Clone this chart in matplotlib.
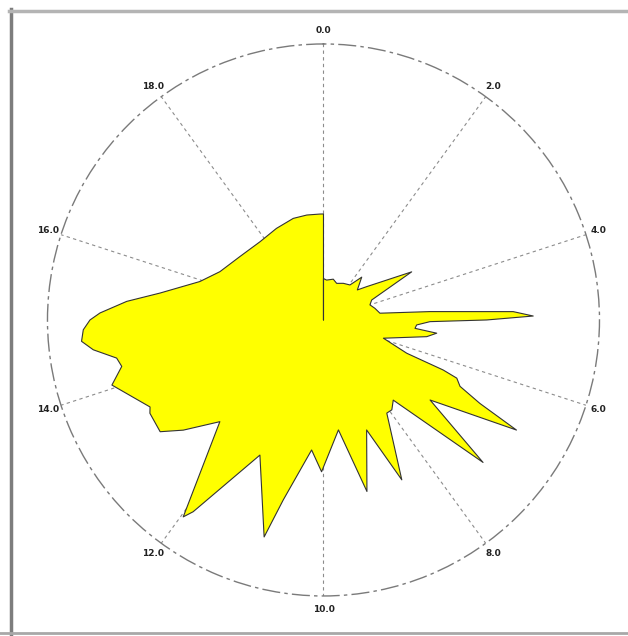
import numpy as np
import matplotlib.pyplot as plt
from matplotlib.lines import Line2D

# Angle positions (0..20 around the dial) and radius (% of outer ring)
angle = [0.00, 0.25, 0.75, 1.10, 1.58, 2.06, 2.19, 2.32, 2.69, 2.91,
         3.41, 3.75, 4.00, 4.29, 4.62, 4.75, 4.86, 4.94, 5.00, 5.05,
         5.17, 5.29, 5.37, 5.51, 5.94, 6.21, 6.26, 6.31, 6.44, 6.56,
         6.65, 7.05, 7.32, 7.72, 7.93, 8.10, 8.55, 8.81, 9.21, 9.57,
         10.04, 10.29, 10.70, 10.85, 11.40, 11.90, 11.97, 12.53, 12.88, 13.09,
         13.43, 13.52, 14.05, 14.28, 14.42, 14.59, 14.72, 14.87, 15.00, 15.10,
         15.30, 15.52, 15.96, 16.39, 17.07, 17.83, 18.49, 19.08, 19.50, 19.90,
         20.00]
radius = [15.0, 14.5, 15.2, 14.1, 15.1, 15.9, 18.0, 20.8, 16.4, 19.8,
          36.4, 18.9, 17.7, 19.1, 20.6, 38.7, 68.8, 76.0, 59.1, 38.6,
          33.8, 33.3, 41.3, 37.9, 22.7, 32.5, 47.0, 52.7, 55.0, 64.2,
          80.5, 48.3, 77.5, 38.5, 40.9, 40.8, 64.5, 42.8, 64.1, 40.2,
          55.0, 47.3, 66.8, 81.5, 54.1, 84.0, 87.6, 52.6, 64.6, 71.7,
          71.4, 70.3, 80.2, 75.0, 76.2, 84.1, 88.0, 87.1, 84.6, 81.0,
          71.6, 60.0, 46.9, 41.4, 38.0, 36.5, 37.3, 38.4, 38.5, 38.4,
          38.4]

tick_values = [0, 2, 4, 6, 8, 10, 12, 14, 16, 18]
tick_labels = ["0.0", "2.0", "4.0", "6.0", "8.0", "10.0", "12.0", "14.0", "16.0", "18.0"]

full_turn = 20.0

fig = plt.figure(figsize=(6.28, 6.36), dpi=100)
ax = fig.add_axes([0.0756, 0.0629, 0.879, 0.868], projection="polar")
ax.set_theta_zero_location("N")
ax.set_theta_direction(-1)

theta = np.array(angle) / full_turn * 2 * np.pi
# closed shape that starts and ends at the centre
th = np.concatenate([[0.0], theta, [theta[-1]]])
rr = np.concatenate([[0.0], radius, [0.0]])
ax.fill(th, rr, facecolor="#ffff00", edgecolor="#333333", linewidth=0.8,
        joinstyle="round", zorder=2)

ax.set_ylim(0, 100)
ax.set_yticks([])
ax.set_xticks(np.array(tick_values) / full_turn * 2 * np.pi)
ax.set_xticklabels(tick_labels, fontsize=6.5, fontweight="bold", color="#222222")
ax.tick_params(axis="x", pad=-1)
ax.set_axisbelow(True)
ax.xaxis.grid(True, color="#8c8c8c", linestyle=(0, (3, 3)), linewidth=0.8)
ax.spines["polar"].set_color("#7a7a7a")
ax.spines["polar"].set_linewidth(1.0)
ax.spines["polar"].set_linestyle((0, (12, 4, 1.5, 4)))

# window-style frame around the plot
fig.add_artist(Line2D([10.5 / 628, 10.5 / 628], [0, 1 - 9 / 636],
                      transform=fig.transFigure, color="#7d7d7d", linewidth=2.5))
fig.add_artist(Line2D([9 / 628, 1], [1 - 10.5 / 636, 1 - 10.5 / 636],
                      transform=fig.transFigure, color="#b4b4b4", linewidth=2.5))
fig.add_artist(Line2D([0, 1], [3.5 / 636, 3.5 / 636],
                      transform=fig.transFigure, color="#a8a8a8", linewidth=2.0))

fig.savefig("out.png", dpi=100)
